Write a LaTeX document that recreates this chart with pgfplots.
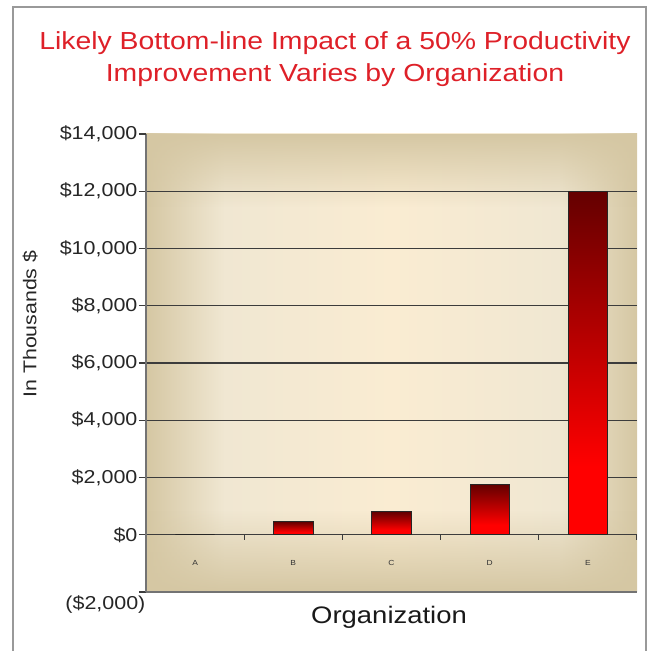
\documentclass[border=0pt]{standalone}
\usepackage{pgfplots}
\pgfplotsset{compat=1.18}
\usetikzlibrary{fadings}
\usepackage{fontspec}
\setmainfont[FakeStretch=1.15]{Liberation Sans}
\definecolor{ttlred}{RGB}{222,32,40}
\definecolor{bgin}{RGB}{250,236,210}
\definecolor{bgmid}{RGB}{240,231,210}
\definecolor{bgout}{RGB}{213,199,163}
\definecolor{gridc}{RGB}{60,60,60}
\definecolor{darkbar}{RGB}{100,0,0}
\definecolor{brightbar}{RGB}{255,0,0}
\pgfdeclareverticalshading{barshade}{100bp}{color(0bp)=(brightbar); color(25bp)=(brightbar); color(35bp)=(brightbar); color(75bp)=(darkbar); color(100bp)=(darkbar)}
\pgfdeclarehorizontalshading{bgh}{100bp}{color(0bp)=(bgout); color(25bp)=(bgout); color(33bp)=(bgmid); color(50bp)=(bgin); color(67bp)=(bgmid); color(75bp)=(bgout); color(100bp)=(bgout)}
\pgfdeclareverticalshading{vfs}{100bp}{color(0bp)=(white); color(25bp)=(white); color(34bp)=(black); color(67bp)=(black); color(75bp)=(white); color(100bp)=(white)}
\pgfdeclarefading{vfade}{\pgfuseshading{vfs}}
\pgfplotsset{barstyle/.style={ybar, bar width=0.4, bar shift=0pt, draw=black!85, line width=0.6pt, shading=barshade, mark=none}}
\begin{document}
\begin{tikzpicture}
\path[use as bounding box] (0,0) rectangle (488.25pt,488.25pt);
\draw[black!40, line width=1.5pt] (9.75pt,-5pt) -- (9.75pt,483pt) -- (484.5pt,483pt) -- (484.5pt,-5pt);
\node[text=ttlred, align=center, font=\fontsize{18.5pt}{24pt}\selectfont] at (251.25pt,444pt)
  {Likely Bottom-line Impact of a 50\% Productivity\\Improvement Varies by Organization};
\shade[shading=bgh] (109.5pt,44.25pt) rectangle (477.75pt,387.75pt);
\fill[bgout, path fading=vfade, fit fading=true] (109.5pt,44.25pt) rectangle (477.75pt,387.75pt);
\begin{axis}[
  at={(109.5pt,44.25pt)}, anchor=south west,
  scale only axis, width=368.25pt, height=343.5pt,
  xmin=-0.5, xmax=4.5, ymin=-2000, ymax=14000,
  scaled y ticks=false,
  axis lines*=left,
  axis line style={draw=black!55, line width=1.6pt},
  xtick={0,1,2,3,4}, xticklabels={A,B,C,D,E},
  xtick style={draw=none},
  xticklabel style={font=\fontsize{5.5pt}{6pt}\selectfont, text=black!80, anchor=center, yshift=27pt},
  ytick={-2000,0,2000,4000,6000,8000,10000,12000},
  yticklabels={{\raisebox{-13pt}[0pt][0pt]{(\$2{,}000)}\kern-6pt},{\$0},{\$2{,}000},{\$4{,}000},{\$6{,}000},{\$8{,}000},{\$10{,}000},{\$12{,}000}},
  extra y ticks={14000}, extra y tick labels={\$14{,}000},
  extra y tick style={grid=none},
  ymajorgrids, grid style={gridc, line width=1pt},
  tick align=outside, major tick length=5.25pt,
  ytick style={gridc, line width=0.8pt},
  yticklabel style={font=\fontsize{14pt}{16pt}\selectfont, text=black!85, inner sep=1pt},
  ylabel={In Thousands \$},
  ylabel style={font=\fontsize{13.9pt}{16pt}\selectfont, text=black!85, at={(axis description cs:-0.236,0.585)}, anchor=center},
  xlabel={Organization},
  xlabel style={font=\fontsize{17.9pt}{20pt}\selectfont, text=black!90, at={(axis description cs:0.495,-0.0546)}, anchor=center},
]
\addplot[barstyle] coordinates {(0,0)};
\addplot[barstyle] coordinates {(1,450)};
\addplot[barstyle] coordinates {(2,800)};
\addplot[barstyle] coordinates {(3,1750)};
\addplot[barstyle] coordinates {(4,12000)};
\pgfplotsinvokeforeach{0.5,1.5,2.5,3.5,4.5}{
  \draw[gridc, line width=0.8pt] (axis cs:#1,0) -- ++(0pt,-4pt);
}
\end{axis}
\end{tikzpicture}
\end{document}
